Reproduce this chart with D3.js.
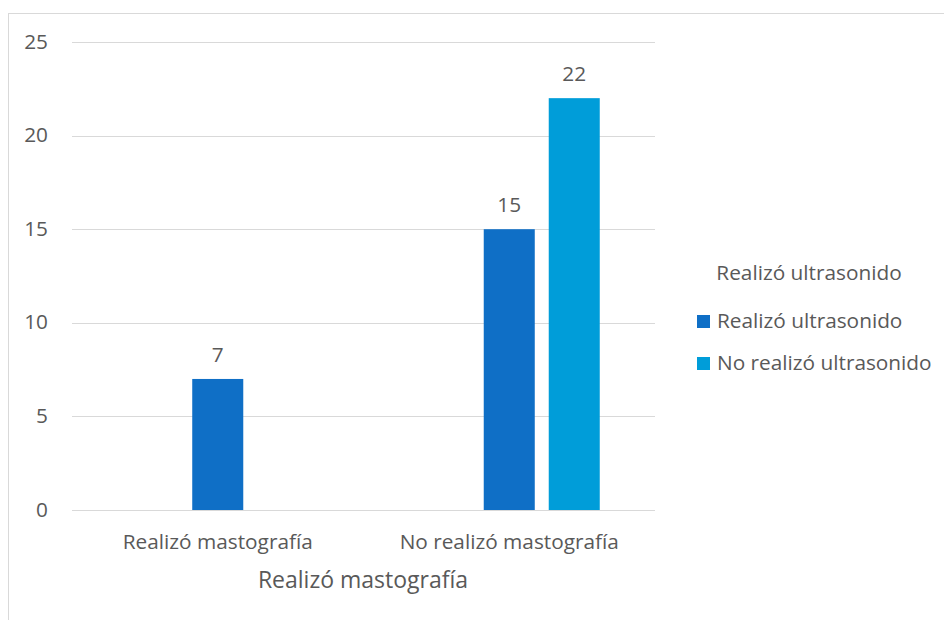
<!DOCTYPE html>
<html><head><meta charset="utf-8">
<script src="https://cdn.jsdelivr.net/npm/d3@7"></script>
<style>body{margin:0;background:#fff;} svg{display:block;} text{font-family:"Open Sans", sans-serif;fill:#595959;}</style>
</head><body><svg id="c" width="944" height="620"></svg>
<script>
const categories = ["Realizó mastografía", "No realizó mastografía"];
const slots = ["", "Realizó ultrasonido", "No realizó ultrasonido"];
const seriesNames = ["Realizó ultrasonido", "No realizó ultrasonido"];
const seriesRealizo = [7, 15];
const seriesNoRealizo = [null, 22];
const yTicks = [0, 5, 10, 15, 20, 25];
const colors = ["#0F6FC6", "#009DD9"];

const FS = 20.8;
const svg = d3.select("#c");
svg.append("rect").attr("x", 8.5).attr("y", 13.5).attr("width", 960).attr("height", 640)
  .attr("fill", "#fff").attr("stroke", "#d9d9d9");

const x0 = d3.scaleBand().domain(categories).range([72, 655]).paddingInner(0).paddingOuter(0);
const x1 = d3.scaleBand().domain(slots).range([0, x0.bandwidth()]).paddingInner(0.215).paddingOuter(0.85);
const y = d3.scaleLinear().domain([0, 25]).range([510, 42]);

const grid = svg.append("g");
grid.selectAll("line").data(yTicks).join("line")
  .attr("x1", 72).attr("x2", 655).attr("y1", d => Math.round(y(d)) + 0.5).attr("y2", d => Math.round(y(d)) + 0.5)
  .attr("stroke", "#d9d9d9").attr("stroke-width", 1);

const yAxis = d3.axisLeft(y).tickValues(yTicks).tickSize(0).tickPadding(0);
const ya = svg.append("g").attr("transform", "translate(48,0)").call(yAxis);
ya.select(".domain").remove();
ya.selectAll("text").attr("dy", null).attr("y", 6).attr("font-size", FS).attr("fill", "#595959").style("font-family", "Open Sans");

const data = [];
categories.forEach((c, i) => {
  data.push({cat: c, slot: seriesNames[0], v: seriesRealizo[i], color: colors[0]});
  if (seriesNoRealizo[i] != null) data.push({cat: c, slot: seriesNames[1], v: seriesNoRealizo[i], color: colors[1]});
});
svg.append("g").selectAll("rect").data(data).join("rect")
  .attr("x", d => x0(d.cat) + x1(d.slot)).attr("width", x1.bandwidth())
  .attr("y", d => y(d.v)).attr("height", d => y(0) - y(d.v)).attr("fill", d => d.color);
svg.append("g").selectAll("text").data(data).join("text")
  .attr("x", d => x0(d.cat) + x1(d.slot) + x1.bandwidth() / 2).attr("y", d => y(d.v) - 17)
  .attr("text-anchor", "middle").attr("font-size", FS).text(d => d.v);

const xAxis = d3.axisBottom(x0).tickSize(0).tickPadding(0);
const xa = svg.append("g").attr("transform", "translate(0,510)").call(xAxis);
xa.select(".domain").remove();
xa.selectAll("text").attr("dy", null).attr("y", 39).attr("font-size", FS).attr("fill", "#595959").style("font-family", "Open Sans");

svg.append("text").attr("x", 363).attr("y", 588).attr("text-anchor", "middle").attr("font-size", 23).text("Realizó mastografía");

svg.append("text").attr("x", 809).attr("y", 280).attr("text-anchor", "middle").attr("font-size", FS).text("Realizó ultrasonido");
const lg = svg.append("g").selectAll("g").data(seriesNames).join("g")
  .attr("transform", (d, i) => `translate(697,${315 + i * 42})`);
lg.append("rect").attr("width", 13).attr("height", 13).attr("fill", (d, i) => colors[i]);
lg.append("text").attr("x", 20).attr("y", 13).attr("font-size", FS).text(d => d);
</script></body></html>
